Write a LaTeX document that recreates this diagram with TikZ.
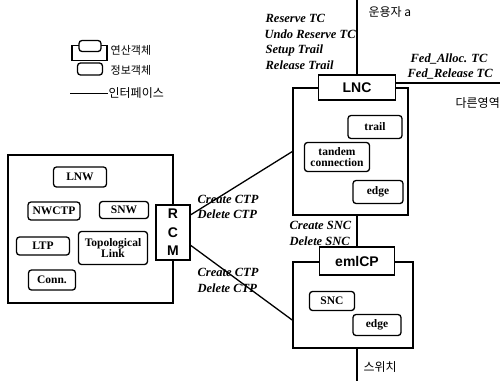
\documentclass[tikz,border=0pt]{standalone}
\usepackage{fontspec}
\setmainfont{Liberation Serif}
\setsansfont{Liberation Sans}
\newfontfamily\kr{Noto Sans CJK KR}
\usepackage{tikz}
\usetikzlibrary{arrows.meta, positioning}
\usetikzlibrary{calc}

\tikzset{
  info/.style={draw, line width=1.3pt, rounded corners=3pt, fill=white, inner sep=1pt, font=\fontsize{11.5}{11.5}\selectfont\bfseries, align=center},
  opbox/.style={draw, line width=1.3pt},
  ophead/.style={draw, line width=1.3pt, fill=white, font=\fontsize{14}{15}\selectfont\sffamily\bfseries},
  msg/.style={inner sep=0pt, anchor=west, font=\fontsize{12.5}{13}\selectfont\bfseries\itshape},
  krtxt/.style={inner sep=0pt, anchor=west, font=\fontsize{12}{12}\selectfont\kr},
}

\begin{document}
\begin{tikzpicture}[x=1pt, y=-1pt, line width=1.3pt]
\useasboundingbox (0,0) rectangle (504,381);
\coordinate (top) at (0,0);
\coordinate (bot) at (0,381);
\coordinate (fed) at (500,83);

\node[opbox, minimum width=35, minimum height=15] (legop) at (89.5,53) {};
\node[info, minimum width=22, minimum height=11] (legophd) at (90,46) {};
\node[krtxt, font=\fontsize{11}{11}\selectfont\kr] (legoptxt) at (110,50) {연산객체};
\node[info, minimum width=25, minimum height=12] (leginfo) at (90,69) {};
\node[krtxt, font=\fontsize{11}{11}\selectfont\kr] (leginfotxt) at (110,70) {정보객체};
\coordinate (legif) at (70,93);
\node[krtxt] (legiftxt) at (108,93) {인터페이스};
\draw[line width=0.9pt] (legif) -- (legiftxt.west);

\node[opbox, minimum width=165, minimum height=148] (nms) at (90.5,229) {};
\node[info, minimum width=53, minimum height=20] (lnw) at (80,177) {LNW};
\node[info, minimum width=52, minimum height=18] (nwctp) at (54,211) {NWCTP};
\node[info, minimum width=49, minimum height=17] (snw) at (124,210) {SNW};
\node[info, minimum width=53, minimum height=18] (ltp) at (43,246) {LTP};
\node[info, minimum width=69, minimum height=33] (topo) at (113,248) {Topological\\Link};
\node[info, minimum width=47, minimum height=20] (conn) at (52,280) {Conn.};
\node[opbox, fill=white, minimum width=34, minimum height=55, align=center,
  font=\fontsize{14}{18.5}\selectfont\sffamily\bfseries] (rcm) at (173,232.5) {R\\C\\M};

\node[opbox, minimum width=115, minimum height=127] (lnc) at (350.5,151.5) {};
\node[ophead, minimum width=77, minimum height=25] (lnchead) at (357,87.5) {LNC};
\node[info, minimum width=54, minimum height=23] (trail) at (375,127) {trail};
\node[info, minimum width=65, minimum height=29] (tandem) at (337,157) {tandem\\connection};
\node[info, minimum width=50, minimum height=23] (lncedge) at (378,192) {edge};

\node[opbox, minimum width=120, minimum height=86] (eml) at (353,305) {};
\node[ophead, minimum width=75, minimum height=28] (emlhead) at (357,261) {emlCP};
\node[info, minimum width=45, minimum height=19] (snc) at (332,301) {SNC};
\node[info, minimum width=48, minimum height=21] (emledge) at (377,325) {edge};

\draw (lnchead.north) -- (lnchead.north |- top);
\draw (lnchead.east |- fed) -- (fed);
\draw (lnc.south -| lnchead.south) -- (emlhead.north);
\draw (eml.south -| emlhead.south) -- (emlhead.south |- bot);
\draw (rcm.45) -- (lnc.west);
\draw (rcm.-36) -- (eml.194);

\node[krtxt] (oper) at (368,12) {운용자 a};
\node[krtxt] (other) at (455,103) {다른영역};
\node[krtxt] (switch) at (363,367) {스위치};

\node[msg] (restc) at (265,18) {Reserve TC};
\node[msg] (undotc) at (264,34) {Undo Reserve TC};
\node[msg] (setup) at (265,50) {Setup Trail};
\node[msg] (release) at (265,65) {Release Trail};
\node[msg] (fedalloc) at (410,59) {Fed\_Alloc. TC};
\node[msg] (fedrel) at (407,74) {Fed\_Release TC};
\node[msg] (cctp1) at (197,199) {Create CTP};
\node[msg] (dctp1) at (197,214) {Delete CTP};
\node[msg] (cctp2) at (197,272) {Create CTP};
\node[msg] (dctp2) at (197,288) {Delete CTP};
\node[msg] (csnc) at (289,225) {Create SNC};
\node[msg] (dsnc) at (289,241) {Delete SNC};
\end{tikzpicture}
\end{document}
